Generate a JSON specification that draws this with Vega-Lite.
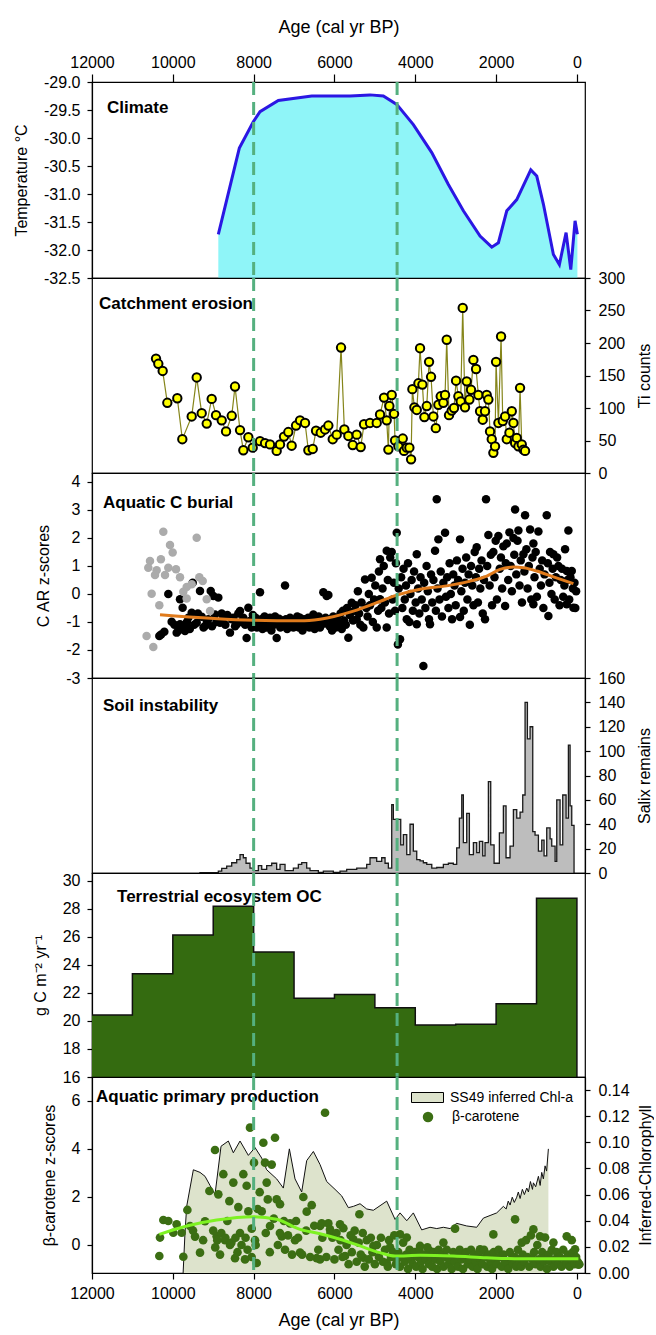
{
"$schema": "https://vega.github.io/schema/vega-lite/v6.json",
"background": "white",
"padding": {"left": 12, "top": 17, "right": 0, "bottom": 0},
"spacing": 0,
"bounds": "flush",
"config": {
 "font": "Liberation Sans",
 "view": {"stroke": "#000", "strokeWidth": 1.2},
 "axis": {"labelFont": "Liberation Sans", "titleFont": "Liberation Sans", "labelFontSize": 16, "titleFontSize": 16, "titleFontWeight": "normal", "labelColor": "#000", "titleColor": "#000", "domainColor": "#000", "tickColor": "#000", "grid": false, "domainWidth": 1.2, "tickWidth": 1.2, "labelOverlap": false},
 "legend": {"labelFont": "Liberation Sans", "labelFontSize": 14, "labelColor": "#000", "padding": 0},
 "text": {"font": "Liberation Sans"}
},
"datasets": {
 "events": [{"a": 8000}, {"a": 4450}],
 "climate": [{"a":8874,"t":-31.72},{"a":8354,"t":-30.18},{"a":8008,"t":-29.71},{"a":7842,"t":-29.53},{"a":7389,"t":-29.33},{"a":6563,"t":-29.25},{"a":5615,"t":-29.25},{"a":5120,"t":-29.23},{"a":4790,"t":-29.25},{"a":4459,"t":-29.4},{"a":4048,"t":-29.76},{"a":3592,"t":-30.26},{"a":3181,"t":-30.83},{"a":2810,"t":-31.3},{"a":2397,"t":-31.75},{"a":2107,"t":-31.95},{"a":1943,"t":-31.87},{"a":1736,"t":-31.3},{"a":1489,"t":-31.1},{"a":1142,"t":-30.57},{"a":994,"t":-30.68},{"a":830,"t":-31.18},{"a":582,"t":-32.08},{"a":434,"t":-32.26},{"a":268,"t":-31.69},{"a":152,"t":-32.35},{"a":46,"t":-31.48},{"a":-12,"t":-31.72}],
 "ti": [{"a":10416,"v":176},{"a":10359,"v":168},{"a":10251,"v":157},{"a":10136,"v":108},{"a":9889,"v":115},{"a":9765,"v":52},{"a":9533,"v":87},{"a":9409,"v":147},{"a":9285,"v":92},{"a":9161,"v":76},{"a":9038,"v":114},{"a":8931,"v":89},{"a":8790,"v":81},{"a":8683,"v":64},{"a":8542,"v":88},{"a":8461,"v":133},{"a":8337,"v":66},{"a":8255,"v":35},{"a":8131,"v":55},{"a":8023,"v":39},{"a":7842,"v":49},{"a":7718,"v":46},{"a":7595,"v":44},{"a":7430,"v":34},{"a":7347,"v":44},{"a":7248,"v":56},{"a":7142,"v":63},{"a":7059,"v":42},{"a":6951,"v":73},{"a":6852,"v":81},{"a":6728,"v":77},{"a":6646,"v":35},{"a":6538,"v":37},{"a":6456,"v":65},{"a":6340,"v":62},{"a":6233,"v":67},{"a":6151,"v":73},{"a":6043,"v":52},{"a":5944,"v":59},{"a":5837,"v":193},{"a":5755,"v":67},{"a":5656,"v":57},{"a":5548,"v":43},{"a":5449,"v":59},{"a":5350,"v":40},{"a":5268,"v":75},{"a":5120,"v":77},{"a":4954,"v":77},{"a":4872,"v":90},{"a":4773,"v":116},{"a":4707,"v":81},{"a":4666,"v":36},{"a":4641,"v":103},{"a":4583,"v":120},{"a":4525,"v":91},{"a":4500,"v":50},{"a":4418,"v":41},{"a":4310,"v":53},{"a":4278,"v":34},{"a":4211,"v":39},{"a":4146,"v":39},{"a":4104,"v":21},{"a":4072,"v":129},{"a":4022,"v":101},{"a":3963,"v":97},{"a":3923,"v":138},{"a":3882,"v":192},{"a":3824,"v":136},{"a":3775,"v":86},{"a":3716,"v":103},{"a":3659,"v":171},{"a":3610,"v":148},{"a":3552,"v":87},{"a":3492,"v":69},{"a":3428,"v":105},{"a":3371,"v":118},{"a":3305,"v":108},{"a":3263,"v":120},{"a":3222,"v":205},{"a":3165,"v":89},{"a":3099,"v":96},{"a":3041,"v":100},{"a":2991,"v":142},{"a":2934,"v":118},{"a":2876,"v":110},{"a":2826,"v":254},{"a":2769,"v":101},{"a":2727,"v":141},{"a":2661,"v":113},{"a":2620,"v":128},{"a":2562,"v":174},{"a":2496,"v":160},{"a":2439,"v":120},{"a":2397,"v":95},{"a":2331,"v":82},{"a":2274,"v":95},{"a":2232,"v":120},{"a":2191,"v":113},{"a":2150,"v":64},{"a":2108,"v":52},{"a":2068,"v":31},{"a":2026,"v":41},{"a":2001,"v":171},{"a":1943,"v":77},{"a":1877,"v":210},{"a":1835,"v":80},{"a":1777,"v":87},{"a":1736,"v":52},{"a":1670,"v":62},{"a":1612,"v":95},{"a":1571,"v":77},{"a":1530,"v":46},{"a":1489,"v":54},{"a":1448,"v":41},{"a":1407,"v":131},{"a":1365,"v":44},{"a":1324,"v":36},{"a":1283,"v":34}],
 "burialGray": [{"a":10235,"v":2.22},{"a":10565,"v":1.18},{"a":10607,"v":0.94},{"a":10295,"v":1.24},{"a":10070,"v":1.75},{"a":10004,"v":1.48},{"a":10400,"v":0.85},{"a":10441,"v":0.68},{"a":10193,"v":0.68},{"a":10112,"v":0.94},{"a":9921,"v":0.88},{"a":9822,"v":0.6},{"a":9409,"v":2.01},{"a":9344,"v":0.6},{"a":9260,"v":0.46},{"a":9533,"v":0.35},{"a":9657,"v":0.25},{"a":9740,"v":0.08},{"a":10524,"v":0.01},{"a":9657,"v":-0.16},{"a":10334,"v":-0.4},{"a":9161,"v":-0.19},{"a":9079,"v":-0.61},{"a":10649,"v":-1.5},{"a":10483,"v":-1.89}],
 "burial": [{"a":10334,"v":-1.5},{"a":10290,"v":-1.45},{"a":10210,"v":-1.35},{"a":10112,"v":0.0},{"a":10029,"v":-0.99},{"a":9960,"v":-1.1},{"a":9905,"v":-1.38},{"a":9860,"v":-1.3},{"a":9822,"v":-1.08},{"a":9822,"v":-0.19},{"a":9757,"v":-0.49},{"a":9720,"v":-1.2},{"a":9698,"v":-1.32},{"a":9650,"v":-1.0},{"a":9616,"v":-0.85},{"a":9580,"v":-1.25},{"a":9533,"v":-0.67},{"a":9508,"v":0.4},{"a":9470,"v":-1.1},{"a":9409,"v":-1.03},{"a":9380,"v":-0.7},{"a":9327,"v":0.11},{"a":9285,"v":-0.81},{"a":9240,"v":-1.2},{"a":9203,"v":-1.14},{"a":9160,"v":-0.95},{"a":9121,"v":-0.9},{"a":9062,"v":0.11},{"a":9030,"v":-1.15},{"a":8997,"v":-0.07},{"a":8956,"v":-0.73},{"a":8920,"v":-1.0},{"a":8874,"v":-0.13},{"a":8832,"v":-1.03},{"a":8790,"v":-0.7},{"a":8750,"v":-0.85},{"a":8700,"v":-1.1},{"a":8650,"v":-0.75},{"a":8585,"v":-1.38},{"a":8540,"v":-0.9},{"a":8503,"v":-0.85},{"a":8460,"v":-1.15},{"a":8420,"v":-1.08},{"a":8380,"v":-0.7},{"a":8337,"v":-0.61},{"a":8300,"v":-1.0},{"a":8255,"v":-0.85},{"a":8210,"v":-1.1},{"a":8173,"v":-1.57},{"a":8131,"v":-0.49},{"a":8090,"v":-0.96},{"a":8050,"v":-1.2},{"a":8020,"v":-0.75},
  {"a":7980,"v":-1.05},{"a":7950,"v":-0.85},{"a":7920,"v":-1.2},{"a":7890,"v":-0.95},{"a":7860,"v":-1.1},{"a":7842,"v":0.06},{"a":7810,"v":-0.9},{"a":7780,"v":-1.25},{"a":7760,"v":-1.03},{"a":7730,"v":-0.8},{"a":7700,"v":-1.15},{"a":7677,"v":-1.2},{"a":7650,"v":-0.92},{"a":7620,"v":-1.05},{"a":7595,"v":-0.85},{"a":7560,"v":-1.3},{"a":7530,"v":-0.95},{"a":7500,"v":-1.1},{"a":7470,"v":-0.8},{"a":7430,"v":-1.57},{"a":7400,"v":-1.0},{"a":7370,"v":-0.88},{"a":7340,"v":-1.2},{"a":7300,"v":-0.95},{"a":7270,"v":-1.1},{"a":7223,"v":0.3},{"a":7200,"v":-0.9},{"a":7170,"v":-1.25},{"a":7130,"v":-1.0},{"a":7099,"v":-0.85},{"a":7060,"v":-1.15},{"a":7017,"v":-1.2},{"a":6990,"v":-0.92},{"a":6950,"v":-1.05},{"a":6920,"v":-0.8},{"a":6880,"v":-1.2},{"a":6852,"v":-0.85},{"a":6820,"v":-1.0},{"a":6790,"v":-1.3},{"a":6750,"v":-0.9},{"a":6720,"v":-1.1},{"a":6687,"v":-1.08},{"a":6650,"v":-0.85},{"a":6620,"v":-1.2},{"a":6590,"v":-0.95},{"a":6550,"v":-1.0},{"a":6522,"v":-0.73},{"a":6490,"v":-1.25},{"a":6460,"v":-0.9},{"a":6420,"v":-1.1},{"a":6390,"v":-0.8},{"a":6357,"v":-1.2},{"a":6320,"v":-0.95},{"a":6275,"v":0.06},{"a":6250,"v":-1.05},{"a":6220,"v":-0.85},{"a":6192,"v":-0.07},{"a":6151,"v":-0.04},{"a":6120,"v":-1.15},{"a":6090,"v":-0.9},{"a":6060,"v":-1.3},{"a":6030,"v":-0.8},{"a":6000,"v":-1.0},{"a":5970,"v":-1.2},{"a":5940,"v":-0.85},{"a":5910,"v":-1.05},{"a":5878,"v":-1.08},{"a":5850,"v":-0.7},{"a":5820,"v":-1.25},{"a":5790,"v":-0.6},{"a":5760,"v":-0.95},{"a":5720,"v":-1.1},{"a":5690,"v":-0.5},{"a":5656,"v":-1.56},{"a":5620,"v":-0.75},{"a":5573,"v":-0.31},{"a":5540,"v":-0.95},{"a":5510,"v":-0.6},
  {"a":5480,"v":-0.4},{"a":5450,"v":-0.9},{"a":5420,"v":0.1},{"a":5390,"v":-0.7},{"a":5360,"v":-1.1},{"a":5330,"v":-0.3},{"a":5285,"v":-1.2},{"a":5244,"v":0.52},{"a":5210,"v":-0.5},{"a":5180,"v":-0.8},{"a":5150,"v":0.0},{"a":5120,"v":-0.4},{"a":5079,"v":0.58},{"a":5050,"v":-1.0},{"a":5020,"v":-0.2},{"a":4990,"v":0.3},{"a":4954,"v":-1.2},{"a":4920,"v":-0.6},{"a":4900,"v":0.8},{"a":4872,"v":1.24},{"a":4872,"v":-0.19},{"a":4840,"v":-0.5},{"a":4810,"v":0.2},{"a":4780,"v":1.0},{"a":4750,"v":-0.3},{"a":4707,"v":1.54},{"a":4707,"v":-1.2},{"a":4680,"v":0.5},{"a":4650,"v":-0.7},{"a":4620,"v":1.3},{"a":4583,"v":1.5},{"a":4560,"v":-0.2},{"a":4530,"v":0.4},{"a":4500,"v":-0.6},{"a":4480,"v":1.1},{"a":4459,"v":2.19},{"a":4430,"v":-1.8},{"a":4410,"v":0.2},
  {"a":4377,"v":-1.62},{"a":4350,"v":0.6},{"a":4320,"v":-0.5},{"a":4290,"v":0.9},{"a":4260,"v":-0.2},{"a":4230,"v":0.3},{"a":4211,"v":-0.9},{"a":4180,"v":1.1},{"a":4146,"v":-1.0},{"a":4120,"v":0.0},{"a":4090,"v":0.5},{"a":4060,"v":-0.6},{"a":4030,"v":0.8},{"a":3990,"v":-0.3},{"a":3963,"v":1.42},{"a":3963,"v":-1.08},{"a":3930,"v":0.2},{"a":3900,"v":-0.7},{"a":3870,"v":0.6},{"a":3840,"v":-0.2},{"a":3800,"v":-2.57},{"a":3780,"v":0.4},{"a":3750,"v":-0.5},{"a":3720,"v":1.0},{"a":3690,"v":0.1},{"a":3660,"v":-0.9},{"a":3635,"v":-1.08},{"a":3610,"v":0.7},{"a":3580,"v":-0.3},{"a":3550,"v":0.5},{"a":3511,"v":1.54},{"a":3490,"v":-0.6},{"a":3469,"v":3.38},{"a":3450,"v":0.2},{"a":3428,"v":1.95},{"a":3400,"v":-0.2},{"a":3370,"v":0.8},{"a":3340,"v":-0.8},{"a":3305,"v":0.4},{"a":3263,"v":2.19},{"a":3240,"v":-0.1},{"a":3210,"v":0.6},{"a":3180,"v":-0.5},{"a":3150,"v":1.1},{"a":3120,"v":0.0},{"a":3090,"v":-0.9},{"a":3060,"v":0.7},{"a":3030,"v":0.3},{"a":3000,"v":-0.4},{"a":2970,"v":1.2},{"a":2940,"v":0.5},{"a":2892,"v":1.95},{"a":2892,"v":-0.82},{"a":2860,"v":0.1},{"a":2830,"v":0.9},{"a":2800,"v":-0.6},{"a":2770,"v":0.4},{"a":2740,"v":1.3},{"a":2710,"v":-0.2},{"a":2680,"v":0.7},{"a":2650,"v":-1.1},{"a":2620,"v":1.0},{"a":2590,"v":0.3},{"a":2560,"v":-0.4},{"a":2530,"v":1.5},{"a":2500,"v":0.6},{"a":2480,"v":1.67},{"a":2450,"v":-0.3},{"a":2420,"v":0.9},{"a":2390,"v":0.2},{"a":2360,"v":1.2},{"a":2330,"v":-0.7},{"a":2300,"v":0.5},{"a":2274,"v":-0.9},{"a":2249,"v":3.38},{"a":2220,"v":1.0},{"a":2191,"v":2.11},{"a":2160,"v":0.3},{"a":2130,"v":1.4},{"a":2100,"v":-0.4},{"a":2068,"v":1.5},{"a":2040,"v":0.6},{"a":2010,"v":1.9},{"a":1980,"v":-0.2},{"a":1943,"v":2.07},{"a":1910,"v":0.9},{"a":1880,"v":1.3},{"a":1850,"v":0.2},{"a":1820,"v":1.7},{"a":1777,"v":-0.43},{"a":1760,"v":1.1},{"a":1736,"v":1.8},{"a":1700,"v":0.5},{"a":1670,"v":2.2},{"a":1640,"v":1.0},{"a":1610,"v":0.1},{"a":1571,"v":2.0},{"a":1550,"v":1.4},{"a":1530,"v":3.02},{"a":1500,"v":0.7},{"a":1470,"v":1.9},{"a":1448,"v":2.27},{"a":1420,"v":0.3},{"a":1390,"v":1.2},{"a":1360,"v":-0.3},{"a":1324,"v":1.42},{"a":1300,"v":0.8},{"a":1283,"v":2.81},{"a":1250,"v":1.6},{"a":1220,"v":0.2},{"a":1190,"v":1.0},{"a":1159,"v":2.3},{"a":1130,"v":-0.2},{"a":1100,"v":1.3},{"a":1077,"v":1.8},{"a":1077,"v":-0.37},{"a":1050,"v":0.6},{"a":1020,"v":1.5},{"a":990,"v":-0.1},{"a":953,"v":2.23},{"a":920,"v":0.9},{"a":890,"v":0.3},{"a":860,"v":1.2},{"a":830,"v":-0.5},{"a":800,"v":0.7},{"a":747,"v":2.81},{"a":720,"v":1.1},{"a":706,"v":-0.79},{"a":680,"v":0.4},{"a":664,"v":1.5},{"a":630,"v":0.0},{"a":600,"v":0.9},{"a":582,"v":1.42},{"a":550,"v":-0.2},{"a":520,"v":0.6},{"a":490,"v":1.3},{"a":458,"v":1.0},{"a":430,"v":-0.4},{"a":400,"v":0.5},{"a":370,"v":0.9},{"a":340,"v":-0.1},{"a":310,"v":0.3},{"a":293,"v":1.6},{"a":252,"v":0.82},{"a":252,"v":-0.37},{"a":230,"v":0.5},{"a":211,"v":2.27},{"a":190,"v":-0.2},{"a":160,"v":0.6},{"a":128,"v":0.82},{"a":100,"v":0.2},{"a":87,"v":-0.49},{"a":60,"v":0.4},{"a":40,"v":-0.5},{"a":20,"v":0.1}],
 "burialFit": [{"a":10317,"v":-0.74},{"a":8008,"v":-0.94},{"a":6852,"v":-0.96},{"a":6357,"v":-0.9},{"a":5532,"v":-0.61},{"a":4954,"v":-0.31},{"a":4459,"v":-0.04},{"a":3882,"v":0.17},{"a":3222,"v":0.29},{"a":2645,"v":0.46},{"a":2232,"v":0.64},{"a":1902,"v":0.88},{"a":1571,"v":0.96},{"a":1324,"v":0.94},{"a":994,"v":0.82},{"a":582,"v":0.61},{"a":87,"v":0.37}],
 "salix": [{"a":71,"v":0},{"a":128,"v":39},{"a":169,"v":55},{"a":211,"v":105},{"a":268,"v":45},{"a":351,"v":64},{"a":417,"v":23},{"a":499,"v":60},{"a":540,"v":9.5},{"a":623,"v":22},{"a":664,"v":28},{"a":747,"v":37},{"a":813,"v":14},{"a":870,"v":27},{"a":953,"v":18},{"a":1036,"v":31},{"a":1093,"v":34},{"a":1159,"v":120},{"a":1225,"v":110},{"a":1283,"v":140},{"a":1341,"v":64},{"a":1407,"v":50},{"a":1489,"v":45},{"a":1572,"v":52},{"a":1655,"v":22},{"a":1754,"v":12.5},{"a":1820,"v":55},{"a":1919,"v":33},{"a":2050,"v":8},{"a":2133,"v":23},{"a":2191,"v":75},{"a":2274,"v":25},{"a":2331,"v":14},{"a":2414,"v":26},{"a":2480,"v":16.7},{"a":2562,"v":25},{"a":2661,"v":15},{"a":2727,"v":49},{"a":2810,"v":25},{"a":2850,"v":64},{"a":2909,"v":45},{"a":2975,"v":20.6},{"a":3058,"v":7},{"a":3181,"v":8},{"a":3305,"v":7},{"a":3469,"v":4.5},{"a":3592,"v":4},{"a":3716,"v":7},{"a":3800,"v":8.4},{"a":3882,"v":10},{"a":3964,"v":11},{"a":4048,"v":18},{"a":4130,"v":40},{"a":4211,"v":15},{"a":4295,"v":31.5},{"a":4360,"v":23},{"a":4459,"v":44},{"a":4542,"v":44},{"a":4583,"v":56},{"a":4666,"v":4},{"a":4748,"v":8},{"a":4831,"v":12.5},{"a":4955,"v":9.5},{"a":5120,"v":12.5},{"a":5202,"v":7},{"a":5449,"v":4},{"a":5697,"v":3},{"a":5862,"v":1.6},{"a":6028,"v":0.5},{"a":6275,"v":1.6},{"a":6399,"v":0.5},{"a":6605,"v":2},{"a":6687,"v":4},{"a":6810,"v":8.5},{"a":6894,"v":7},{"a":7017,"v":4},{"a":7141,"v":2},{"a":7223,"v":2},{"a":7347,"v":7},{"a":7430,"v":3},{"a":7553,"v":8},{"a":7677,"v":6},{"a":7800,"v":3},{"a":7884,"v":6},{"a":8008,"v":2},{"a":8090,"v":4},{"a":8188,"v":8},{"a":8255,"v":12.5},{"a":8337,"v":15},{"a":8419,"v":11},{"a":8543,"v":8.4},{"a":8667,"v":5.7},{"a":8790,"v":3.8},{"a":8874,"v":1.6},{"a":9344,"v":0.3}],
 "terr": [{"a":0,"v":16},{"a":1000,"v":28.76},{"a":2000,"v":21.24},{"a":3000,"v":19.76},{"a":4000,"v":19.71},{"a":5000,"v":20.95},{"a":6000,"v":21.9},{"a":7000,"v":21.62},{"a":8000,"v":24.93},{"a":9000,"v":28.2},{"a":10000,"v":26.14},{"a":11000,"v":23.38},{"a":12000,"v":20.43}],
 "chl": [{"a":9745,"c":0},{"a":9700,"c":0.03},{"a":9657,"c":0.051},{"a":9492,"c":0.079},{"a":9327,"c":0.077},{"a":9203,"c":0.074},{"a":9079,"c":0.067},{"a":8956,"c":0.06},{"a":8807,"c":0.097},{"a":8626,"c":0.101},{"a":8503,"c":0.092},{"a":8337,"c":0.101},{"a":8131,"c":0.09},{"a":7966,"c":0.096},{"a":7801,"c":0.088},{"a":7677,"c":0.079},{"a":7430,"c":0.072},{"a":7265,"c":0.065},{"a":7116,"c":0.095},{"a":6976,"c":0.072},{"a":6811,"c":0.062},{"a":6687,"c":0.086},{"a":6522,"c":0.093},{"a":6357,"c":0.083},{"a":6192,"c":0.07},{"a":5986,"c":0.064},{"a":5821,"c":0.059},{"a":5656,"c":0.05},{"a":5532,"c":0.051},{"a":5367,"c":0.053},{"a":5202,"c":0.049},{"a":5037,"c":0.048},{"a":4707,"c":0.055},{"a":4500,"c":0.041},{"a":4377,"c":0.046},{"a":4211,"c":0.04},{"a":4048,"c":0.046},{"a":3841,"c":0.033},{"a":3635,"c":0.035},{"a":3469,"c":0.034},{"a":3305,"c":0.035},{"a":3140,"c":0.034},{"a":2975,"c":0.038},{"a":2727,"c":0.036},{"a":2480,"c":0.035},{"a":2315,"c":0.042},{"a":2150,"c":0.044},{"a":1985,"c":0.046},{"a":1820,"c":0.051},{"a":1750,"c":0.049},{"a":1700,"c":0.055},{"a":1654,"c":0.052},{"a":1600,"c":0.058},{"a":1550,"c":0.054},{"a":1489,"c":0.058},{"a":1450,"c":0.062},{"a":1406,"c":0.057},{"a":1350,"c":0.064},{"a":1300,"c":0.06},{"a":1241,"c":0.065},{"a":1200,"c":0.062},{"a":1150,"c":0.07},{"a":1100,"c":0.064},{"a":1077,"c":0.069},{"a":1020,"c":0.066},{"a":953,"c":0.074},{"a":910,"c":0.067},{"a":871,"c":0.077},{"a":830,"c":0.072},{"a":788,"c":0.082},{"a":750,"c":0.078},{"a":706,"c":0.095},{"a":705,"c":0}],
 "betaFit": [{"a":10334,"v":0.44},{"a":9657,"v":0.79},{"a":8915,"v":1.04},{"a":8008,"v":1.18},{"a":7430,"v":1.07},{"a":6852,"v":0.65},{"a":6357,"v":0.47},{"a":5862,"v":0.24},{"a":5367,"v":-0.04},{"a":4872,"v":-0.32},{"a":4500,"v":-0.46},{"a":3882,"v":-0.43},{"a":3057,"v":-0.46},{"a":2232,"v":-0.53},{"a":1407,"v":-0.57},{"a":582,"v":-0.57},{"a":-37,"v":-0.57}],
 "beta": [{"a":10317,"v":0.31},{"a":10235,"v":1.04},{"a":10334,"v":-0.46},{"a":10112,"v":1.0},{"a":9988,"v":0.51},{"a":9905,"v":0.86},{"a":9781,"v":0.51},{"a":9740,"v":-0.49},{"a":9640,"v":1.46},{"a":9574,"v":0.79},{"a":9450,"v":0.35},{"a":9327,"v":-0.32},{"a":9203,"v":0.99},{"a":9095,"v":2.25},{"a":8956,"v":3.96},{"a":8915,"v":0.36},{"a":8874,"v":2.11},{"a":8832,"v":-0.4},{"a":8750,"v":2.95},{"a":8708,"v":0.2},{"a":8601,"v":1.83},{"a":8585,"v":0.0},{"a":8503,"v":2.6},{"a":8461,"v":-0.55},{"a":8379,"v":1.58},{"a":8337,"v":0.5},{"a":8255,"v":2.95},{"a":8214,"v":-0.6},{"a":8173,"v":2.47},{"a":8131,"v":1.4},{"a":8090,"v":4.89},{"a":8048,"v":0.68},{"a":7991,"v":3.43},{"a":7966,"v":0.2},{"a":7925,"v":-0.75},{"a":7760,"v":4.26},{"a":7718,"v":3.43},{"a":7677,"v":2.6},{"a":7595,"v":0.79},{"a":7553,"v":3.35},{"a":7471,"v":4.47},{"a":7430,"v":1.9},{"a":7347,"v":1.7},{"a":7306,"v":0.36},{"a":7223,"v":-0.2},{"a":7099,"v":0.9},{"a":6976,"v":0.2},{"a":6852,"v":-0.32},{"a":6770,"v":2.0},{"a":6687,"v":1.39},{"a":6563,"v":1.66},{"a":6439,"v":-0.55},{"a":6357,"v":0.79},{"a":6233,"v":5.51},{"a":6151,"v":0.9},{"a":6316,"v":0.9},{"a":6357,"v":-0.6},{"a":6110,"v":0.65},{"a":5862,"v":0.86},{"a":5738,"v":-0.46},{"a":5532,"v":0.24},{"a":5383,"v":1.28},{"a":5285,"v":-0.53},{"a":5037,"v":-0.04},{"a":4707,"v":-0.74},{"a":4624,"v":-0.1},{"a":4377,"v":0.44},{"a":4211,"v":0.31},{"a":4048,"v":-0.32},{"a":3882,"v":-0.04},{"a":3635,"v":-0.25},{"a":3305,"v":0.1},{"a":3016,"v":0.68},{"a":2810,"v":-0.46},{"a":2397,"v":-0.18},{"a":2068,"v":0.44},{"a":1736,"v":-0.74},{"a":1530,"v":1.07},{"a":1365,"v":0.1},{"a":1077,"v":0.65},{"a":912,"v":0.36},{"a":788,"v":0.31},{"a":582,"v":0.1},{"a":252,"v":0.36},{"a":128,"v":0.2},{"a":46,"v":-0.18},{"a":-37,"v":-0.82},
  {"a":8900,"v":0.2},{"a":8800,"v":0.5},{"a":8700,"v":0.3},{"a":8650,"v":1.0},{"a":8550,"v":0.1},{"a":8450,"v":0.3},{"a":8400,"v":-0.3},{"a":8300,"v":0.0},{"a":8200,"v":0.3},{"a":8150,"v":-0.2},{"a":8050,"v":-0.5},{"a":7950,"v":0.0},{"a":7900,"v":1.5},{"a":7850,"v":2.2},{"a":7800,"v":1.4},{"a":7700,"v":0.5},{"a":7650,"v":1.9},{"a":7600,"v":-0.3},{"a":7500,"v":1.1},{"a":7400,"v":0.0},{"a":7350,"v":0.5},{"a":7250,"v":1.0},{"a":7150,"v":0.4},{"a":7050,"v":-0.4},{"a":6950,"v":1.0},{"a":6900,"v":0.3},{"a":6800,"v":-0.4},{"a":6700,"v":0.6},{"a":6600,"v":-0.5},{"a":6500,"v":0.8},{"a":6400,"v":-0.2},{"a":6300,"v":0.3},{"a":6200,"v":-0.5},{"a":6100,"v":0.5},{"a":9500,"v":0.6},{"a":9250,"v":0.2},{"a":9000,"v":0.6},{"a":8950,"v":-0.1},
  {"a":6050,"v":0.3},{"a":6000,"v":-0.6},{"a":5950,"v":0.5},{"a":5900,"v":-0.2},{"a":5850,"v":0.2},{"a":5800,"v":-0.5},{"a":5780,"v":0.7},{"a":5700,"v":0.0},{"a":5650,"v":-0.8},{"a":5600,"v":0.4},{"a":5570,"v":-0.3},{"a":5500,"v":0.6},{"a":5450,"v":-0.7},{"a":5400,"v":0.1},{"a":5350,"v":-0.4},{"a":5300,"v":0.5},{"a":5250,"v":-0.9},{"a":5200,"v":0.2},{"a":5150,"v":-0.6},{"a":5100,"v":0.3},{"a":5060,"v":-0.3},{"a":5000,"v":-0.8},{"a":4950,"v":0.0},{"a":4900,"v":-0.5},{"a":4850,"v":0.3},{"a":4800,"v":-0.7},{"a":4750,"v":-0.2},{"a":4680,"v":-0.9},{"a":4650,"v":0.2},{"a":4600,"v":-0.5},{"a":4550,"v":-0.3},{"a":4520,"v":0.4},{"a":4480,"v":-0.8},
  {"a":4460,"v":-0.6},{"a":4420,"v":-0.3},{"a":4380,"v":-0.9},{"a":4340,"v":-0.5},{"a":4300,"v":0.1},{"a":4260,"v":-0.7},{"a":4220,"v":-0.4},{"a":4180,"v":-1.0},{"a":4140,"v":-0.2},{"a":4100,"v":-0.6},{"a":4060,"v":-0.8},{"a":4020,"v":-0.3},{"a":3980,"v":-0.9},{"a":3940,"v":-0.5},{"a":3900,"v":-0.2},{"a":3860,"v":-0.7},{"a":3820,"v":-1.0},{"a":3780,"v":-0.4},{"a":3740,"v":-0.6},{"a":3700,"v":-0.1},{"a":3660,"v":-0.8},{"a":3620,"v":-0.5},{"a":3580,"v":-0.9},{"a":3540,"v":-0.3},{"a":3500,"v":-0.6},{"a":3460,"v":-1.0},{"a":3420,"v":-0.2},{"a":3380,"v":-0.7},{"a":3340,"v":-0.4},{"a":3300,"v":-0.9},{"a":3260,"v":-0.5},{"a":3220,"v":-0.2},{"a":3180,"v":-0.8},{"a":3140,"v":-0.6},{"a":3100,"v":-1.0},{"a":3060,"v":-0.3},{"a":3020,"v":-0.7},{"a":2980,"v":-0.4},{"a":2940,"v":-0.9},{"a":2900,"v":-0.2},{"a":2860,"v":-0.6},{"a":2820,"v":-1.0},{"a":2780,"v":-0.5},{"a":2740,"v":-0.3},{"a":2700,"v":-0.8},{"a":2660,"v":-0.6},{"a":2620,"v":-0.2},{"a":2580,"v":-0.9},{"a":2540,"v":-0.4},{"a":2500,"v":-0.7},{"a":2460,"v":-1.0},{"a":2420,"v":-0.3},{"a":2380,"v":-0.6},{"a":2340,"v":-0.8},{"a":2300,"v":-0.2},{"a":2260,"v":-0.5},{"a":2220,"v":-0.9},{"a":2180,"v":-0.4},{"a":2140,"v":-0.7},{"a":2100,"v":-1.0},{"a":2060,"v":-0.3},{"a":2020,"v":-0.6},{"a":1980,"v":-0.8},{"a":1940,"v":-0.2},{"a":1900,"v":-0.5},{"a":1860,"v":-0.9},{"a":1820,"v":-0.4},{"a":1780,"v":-0.7},{"a":1700,"v":-1.0},{"a":1660,"v":-0.3},{"a":1620,"v":-0.6},{"a":1580,"v":-0.8},{"a":1540,"v":-0.5},{"a":1500,"v":-0.9},{"a":1460,"v":-0.2},{"a":1420,"v":-0.6},{"a":1380,"v":-0.9},{"a":1340,"v":-0.4},{"a":1300,"v":-0.7},{"a":1260,"v":0.2},{"a":1220,"v":-0.5},{"a":1180,"v":-0.9},{"a":1140,"v":0.4},{"a":1100,"v":-0.6},{"a":1060,"v":-0.3},{"a":1020,"v":-0.8},{"a":980,"v":0.0},{"a":940,"v":-0.6},{"a":900,"v":-0.9},{"a":860,"v":-0.3},{"a":820,"v":-0.7},{"a":780,"v":-0.5},{"a":740,"v":-1.0},{"a":700,"v":-0.4},{"a":660,"v":-0.7},{"a":620,"v":-0.2},{"a":580,"v":-0.9},{"a":540,"v":-0.6},{"a":500,"v":-0.3},{"a":460,"v":-0.8},{"a":420,"v":-0.5},{"a":380,"v":-0.9},{"a":340,"v":-0.2},{"a":300,"v":-0.6},{"a":260,"v":-0.8},{"a":220,"v":-0.4},{"a":180,"v":-0.9},{"a":140,"v":-0.6},{"a":100,"v":-0.3},{"a":60,"v":-0.8},{"a":20,"v":-0.5},{"a":-20,"v":-0.7},{"a":-60,"v":-0.8}]
},
"vconcat": [
 {
  "width": 493, "height": 196,
  "resolve": {"axis": {"x": "independent", "y": "independent"}},
  "layer": [
   {"data": {"name": "climate"}, "mark": {"type": "area", "color": "#8ff5f8"}, "encoding": {
     "x": {"field": "a", "type": "quantitative", "scale": {"domain": [-200, 12000], "reverse": true, "nice": false, "zero": false}, "axis": {"orient": "top", "values": [0, 2000, 4000, 6000, 8000, 10000, 12000], "format": "d", "title": "Age (cal yr BP)", "titleFontSize": 18, "tickSize": 8, "labelPadding": 4, "titlePadding": 18, "labelOverlap": false, "labelFlush": false}},
     "y": {"field": "t", "type": "quantitative", "scale": {"domain": [-32.5, -29], "nice": false, "zero": false}, "axis": {"orient": "left", "values": [-32.5, -32, -31.5, -31, -30.5, -30, -29.5, -29], "labelExpr": "replace(format(datum.value, '.1f'), '\u2212', '-')", "title": "Temperature °C", "tickSize": 5, "labelPadding": 7, "titlePadding": 14, "labelOverlap": false}},
     "y2": {"datum": -32.5}}},
   {"data": {"name": "climate"}, "mark": {"type": "line", "color": "#2b17e3", "strokeWidth": 3}, "encoding": {
     "x": {"field": "a", "type": "quantitative", "scale": {"domain": [-200, 12000], "reverse": true, "nice": false, "zero": false}, "axis": null},
     "y": {"field": "t", "type": "quantitative", "scale": {"domain": [-32.5, -29], "nice": false, "zero": false}, "axis": null}}},
   {"data": {"values": [{"label": "Climate"}]}, "mark": {"type": "text", "align": "left", "baseline": "middle", "fontSize": 17, "fontWeight": "bold", "color": "#000"}, "encoding": {
     "x": {"datum": 11629, "type": "quantitative", "scale": {"domain": [-200, 12000], "reverse": true, "nice": false, "zero": false}, "axis": null},
     "y": {"datum": -29.46, "type": "quantitative", "scale": {"domain": [-32.5, -29], "nice": false, "zero": false}, "axis": null},
     "text": {"field": "label", "type": "nominal"}}},
   {"data": {"name": "events"}, "mark": {"type": "rule", "color": "#55b07f", "strokeWidth": 3, "strokeDash": [13, 7]}, "encoding": {
     "x": {"field": "a", "type": "quantitative", "scale": {"domain": [-200, 12000], "reverse": true, "nice": false, "zero": false}, "axis": null}}}
  ]
 },
 {
  "width": 493, "height": 195,
  "resolve": {"axis": {"x": "independent", "y": "independent"}},
  "layer": [
   {"data": {"name": "ti"}, "mark": {"type": "line", "color": "#85851a", "strokeWidth": 1.2}, "encoding": {
     "x": {"field": "a", "type": "quantitative", "scale": {"domain": [-200, 12000], "reverse": true, "nice": false, "zero": false}, "axis": null},
     "y": {"field": "v", "type": "quantitative", "scale": {"domain": [0, 300], "nice": false}, "axis": {"orient": "right", "values": [0, 50, 100, 150, 200, 250, 300], "title": "Ti counts", "titleAngle": 270, "titleBaseline": "top", "tickSize": 5, "labelPadding": 8, "titlePadding": 12, "labelOverlap": false}}}},
   {"data": {"name": "ti"}, "mark": {"type": "point", "filled": true, "fill": "#ffff00", "stroke": "#000", "strokeWidth": 2, "size": 70, "opacity": 1}, "encoding": {
     "x": {"field": "a", "type": "quantitative", "scale": {"domain": [-200, 12000], "reverse": true, "nice": false, "zero": false}, "axis": null},
     "y": {"field": "v", "type": "quantitative", "scale": {"domain": [0, 300], "nice": false}, "axis": null}}},
   {"data": {"values": [{"label": "Catchment erosion"}]}, "mark": {"type": "text", "align": "left", "baseline": "middle", "fontSize": 17, "fontWeight": "bold", "color": "#000"}, "encoding": {
     "x": {"datum": 11827, "type": "quantitative", "scale": {"domain": [-200, 12000], "reverse": true, "nice": false, "zero": false}, "axis": null},
     "y": {"datum": 260, "type": "quantitative", "scale": {"domain": [0, 300], "nice": false}, "axis": null},
     "text": {"field": "label", "type": "nominal"}}},
   {"data": {"name": "events"}, "mark": {"type": "rule", "color": "#55b07f", "strokeWidth": 3, "strokeDash": [13, 7]}, "encoding": {
     "x": {"field": "a", "type": "quantitative", "scale": {"domain": [-200, 12000], "reverse": true, "nice": false, "zero": false}, "axis": null}}}
  ]
 },
 {
  "width": 493, "height": 205,
  "resolve": {"axis": {"x": "independent", "y": "independent"}},
  "layer": [
   {"data": {"name": "burial"}, "mark": {"type": "circle", "color": "#000", "size": 72, "opacity": 1}, "encoding": {
     "x": {"field": "a", "type": "quantitative", "scale": {"domain": [-200, 12000], "reverse": true, "nice": false, "zero": false}, "axis": null},
     "y": {"field": "v", "type": "quantitative", "scale": {"domain": [-3, 4.32], "nice": false, "zero": false}, "axis": {"orient": "left", "values": [-3, -2, -1, 0, 1, 2, 3, 4], "labelExpr": "replace(format(datum.value, 'd'), '\u2212', '-')", "title": "C AR z-scores", "tickSize": 5, "labelPadding": 7, "titlePadding": 14, "labelOverlap": false}}}},
   {"data": {"name": "burialGray"}, "mark": {"type": "circle", "color": "#ababab", "size": 72, "opacity": 1}, "encoding": {
     "x": {"field": "a", "type": "quantitative", "scale": {"domain": [-200, 12000], "reverse": true, "nice": false, "zero": false}, "axis": null},
     "y": {"field": "v", "type": "quantitative", "scale": {"domain": [-3, 4.32], "nice": false, "zero": false}, "axis": null}}},
   {"data": {"name": "burialFit"}, "mark": {"type": "line", "color": "#e07b1c", "strokeWidth": 3, "interpolate": "monotone"}, "encoding": {
     "x": {"field": "a", "type": "quantitative", "scale": {"domain": [-200, 12000], "reverse": true, "nice": false, "zero": false}, "axis": null},
     "y": {"field": "v", "type": "quantitative", "scale": {"domain": [-3, 4.32], "nice": false, "zero": false}, "axis": null}}},
   {"data": {"values": [{"label": "Aquatic C burial"}]}, "mark": {"type": "text", "align": "left", "baseline": "middle", "fontSize": 17, "fontWeight": "bold", "color": "#000"}, "encoding": {
     "x": {"datum": 11728, "type": "quantitative", "scale": {"domain": [-200, 12000], "reverse": true, "nice": false, "zero": false}, "axis": null},
     "y": {"datum": 3.25, "type": "quantitative", "scale": {"domain": [-3, 4.32], "nice": false, "zero": false}, "axis": null},
     "text": {"field": "label", "type": "nominal"}}},
   {"data": {"name": "events"}, "mark": {"type": "rule", "color": "#55b07f", "strokeWidth": 3, "strokeDash": [13, 7]}, "encoding": {
     "x": {"field": "a", "type": "quantitative", "scale": {"domain": [-200, 12000], "reverse": true, "nice": false, "zero": false}, "axis": null}}}
  ]
 },
 {
  "width": 493, "height": 195,
  "resolve": {"axis": {"x": "independent", "y": "independent"}},
  "layer": [
   {"data": {"name": "salix"}, "mark": {"type": "area", "color": "#bdbdbd", "interpolate": "step-after"}, "encoding": {
     "x": {"field": "a", "type": "quantitative", "scale": {"domain": [-200, 12000], "reverse": true, "nice": false, "zero": false}, "axis": null},
     "y": {"field": "v", "type": "quantitative", "scale": {"domain": [0, 160], "nice": false}, "axis": {"orient": "right", "values": [0, 20, 40, 60, 80, 100, 120, 140, 160], "title": "Salix remains", "titleAngle": 270, "titleBaseline": "top", "tickSize": 5, "labelPadding": 8, "titlePadding": 12, "labelOverlap": false}}}},
   {"data": {"name": "salix"}, "mark": {"type": "line", "color": "#1a1a1a", "strokeWidth": 1.3, "interpolate": "step-after"}, "encoding": {
     "x": {"field": "a", "type": "quantitative", "scale": {"domain": [-200, 12000], "reverse": true, "nice": false, "zero": false}, "axis": null},
     "y": {"field": "v", "type": "quantitative", "scale": {"domain": [0, 160], "nice": false}, "axis": null}}},
   {"data": {"values": [{"label": "Soil instability"}]}, "mark": {"type": "text", "align": "left", "baseline": "middle", "fontSize": 17, "fontWeight": "bold", "color": "#000"}, "encoding": {
     "x": {"datum": 11728, "type": "quantitative", "scale": {"domain": [-200, 12000], "reverse": true, "nice": false, "zero": false}, "axis": null},
     "y": {"datum": 137, "type": "quantitative", "scale": {"domain": [0, 160], "nice": false}, "axis": null},
     "text": {"field": "label", "type": "nominal"}}},
   {"data": {"name": "events"}, "mark": {"type": "rule", "color": "#55b07f", "strokeWidth": 3, "strokeDash": [13, 7]}, "encoding": {
     "x": {"field": "a", "type": "quantitative", "scale": {"domain": [-200, 12000], "reverse": true, "nice": false, "zero": false}, "axis": null}}}
  ]
 },
 {
  "width": 493, "height": 204,
  "resolve": {"axis": {"x": "independent", "y": "independent"}},
  "layer": [
   {"data": {"name": "terr"}, "mark": {"type": "area", "color": "#346b10", "interpolate": "step-after"}, "encoding": {
     "x": {"field": "a", "type": "quantitative", "scale": {"domain": [-200, 12000], "reverse": true, "nice": false, "zero": false}, "axis": null},
     "y": {"field": "v", "type": "quantitative", "scale": {"domain": [16, 30.57], "nice": false, "zero": false}, "axis": {"orient": "left", "values": [16, 18, 20, 22, 24, 26, 28, 30], "title": "g C m⁻² yr⁻¹", "tickSize": 5, "labelPadding": 7, "titlePadding": 14, "labelOverlap": false}},
     "y2": {"datum": 16}}},
   {"data": {"name": "terr"}, "mark": {"type": "line", "color": "#111", "strokeWidth": 1.5, "interpolate": "step-after"}, "encoding": {
     "x": {"field": "a", "type": "quantitative", "scale": {"domain": [-200, 12000], "reverse": true, "nice": false, "zero": false}, "axis": null},
     "y": {"field": "v", "type": "quantitative", "scale": {"domain": [16, 30.57], "nice": false, "zero": false}, "axis": null}}},
   {"data": {"values": [{"label": "Terrestrial ecosystem OC"}]}, "mark": {"type": "text", "align": "left", "baseline": "middle", "fontSize": 17, "fontWeight": "bold", "color": "#000"}, "encoding": {
     "x": {"datum": 11381, "type": "quantitative", "scale": {"domain": [-200, 12000], "reverse": true, "nice": false, "zero": false}, "axis": null},
     "y": {"datum": 28.86, "type": "quantitative", "scale": {"domain": [16, 30.57], "nice": false, "zero": false}, "axis": null},
     "text": {"field": "label", "type": "nominal"}}},
   {"data": {"name": "events"}, "mark": {"type": "rule", "color": "#55b07f", "strokeWidth": 3, "strokeDash": [13, 7]}, "encoding": {
     "x": {"field": "a", "type": "quantitative", "scale": {"domain": [-200, 12000], "reverse": true, "nice": false, "zero": false}, "axis": null}}}
  ]
 },
 {
  "width": 493, "height": 196,
  "resolve": {"scale": {"y": "independent"}, "axis": {"x": "independent", "y": "independent"}},
  "layer": [
   {"data": {"name": "chl"}, "mark": {"type": "area", "opacity": 1}, "encoding": {
     "x": {"field": "a", "type": "quantitative", "scale": {"domain": [-200, 12000], "reverse": true, "nice": false, "zero": false}, "axis": {"orient": "bottom", "values": [0, 2000, 4000, 6000, 8000, 10000, 12000], "format": "d", "title": "Age (cal yr BP)", "titleFontSize": 18, "tickSize": 6, "labelPadding": 6, "titlePadding": 10, "labelOverlap": false, "labelFlush": false}},
     "y": {"field": "c", "type": "quantitative", "scale": {"domain": [0, 0.15], "nice": false}, "axis": {"orient": "right", "values": [0, 0.02, 0.04, 0.06, 0.08, 0.1, 0.12, 0.14], "format": ".2f", "title": "Inferred-Chlorophyll", "titleAngle": 270, "titleBaseline": "top", "tickSize": 5, "labelPadding": 8, "titlePadding": 8, "labelOverlap": false}},
     "fill": {"datum": "SS49 inferred Chl-a", "type": "nominal", "scale": {"range": ["#dde3cc"]}, "legend": {"orient": "none", "legendX": 325, "legendY": 1005, "title": null, "symbolType": "M-1.6,-0.5H1.6V0.5H-1.6Z", "symbolSize": 400, "symbolStrokeColor": "#000", "symbolStrokeWidth": 1, "labelOffset": 12}}}},
   {"data": {"name": "chl"}, "transform": [{"filter": "datum.a > 705.5"}], "mark": {"type": "line", "color": "#111", "strokeWidth": 1}, "encoding": {
     "x": {"field": "a", "type": "quantitative", "scale": {"domain": [-200, 12000], "reverse": true, "nice": false, "zero": false}, "axis": null},
     "y": {"field": "c", "type": "quantitative", "scale": {"domain": [0, 0.15], "nice": false}, "axis": null}}},
   {"data": {"name": "beta"}, "mark": {"type": "circle", "size": 75, "opacity": 1}, "encoding": {
     "x": {"field": "a", "type": "quantitative", "scale": {"domain": [-200, 12000], "reverse": true, "nice": false, "zero": false}, "axis": null},
     "y": {"field": "v", "type": "quantitative", "scale": {"domain": [-1.167, 7], "nice": false, "zero": false}, "axis": {"orient": "left", "values": [0, 2, 4, 6], "title": "β-carotene z-scores", "tickSize": 5, "labelPadding": 7, "titlePadding": 14, "labelOverlap": false}},
     "color": {"datum": "β-carotene", "type": "nominal", "scale": {"range": ["#3b6e13"]}, "legend": {"orient": "none", "legendX": 329, "legendY": 1028, "title": null, "symbolType": "circle", "symbolSize": 110, "symbolOpacity": 1, "labelOffset": 17}}}},
   {"data": {"name": "betaFit"}, "mark": {"type": "line", "color": "#7ef222", "strokeWidth": 3, "interpolate": "monotone"}, "encoding": {
     "x": {"field": "a", "type": "quantitative", "scale": {"domain": [-200, 12000], "reverse": true, "nice": false, "zero": false}, "axis": null},
     "y": {"field": "v", "type": "quantitative", "scale": {"domain": [-1.167, 7], "nice": false, "zero": false}, "axis": null}}},
   {"data": {"values": [{"label": "Aquatic primary production"}]}, "mark": {"type": "text", "align": "left", "baseline": "middle", "fontSize": 17, "fontWeight": "bold", "color": "#000"}, "encoding": {
     "x": {"datum": 11901, "type": "quantitative", "scale": {"domain": [-200, 12000], "reverse": true, "nice": false, "zero": false}, "axis": null},
     "y": {"datum": 6.17, "type": "quantitative", "scale": {"domain": [-1.167, 7], "nice": false, "zero": false}, "axis": null},
     "text": {"field": "label", "type": "nominal"}}},
   {"data": {"name": "events"}, "mark": {"type": "rule", "color": "#55b07f", "strokeWidth": 3, "strokeDash": [13, 7]}, "encoding": {
     "x": {"field": "a", "type": "quantitative", "scale": {"domain": [-200, 12000], "reverse": true, "nice": false, "zero": false}, "axis": null}}}
  ]
 }
]
}
